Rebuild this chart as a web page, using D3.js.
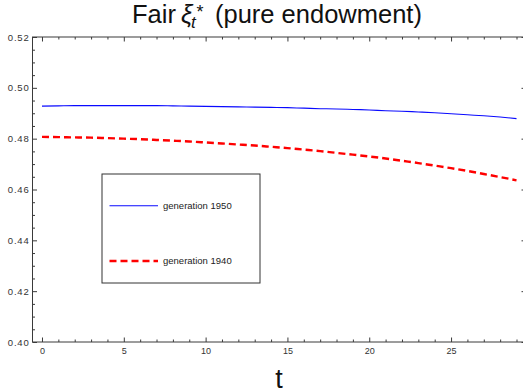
<!DOCTYPE html>
<html>
<head>
<meta charset="utf-8">
<script src="https://cdn.jsdelivr.net/npm/d3@7"></script>
<style>
  html, body { margin: 0; padding: 0; background: #fff; }
  svg { display: block; }
  text { font-family: "Liberation Sans", Arial, sans-serif; }
</style>
</head>
<body>
<svg id="chart" width="523" height="392"></svg>
<script>
// ---- data ----
const tValues = [0,1,2,3,4,5,6,7,8,9,10,11,12,13,14,15,16,17,18,19,20,21,22,23,24,25,26,27,28,29];
const gen1950 = [0.4928,0.4929,0.4930,0.4930,0.4930,0.4930,0.4930,0.4930,0.4929,0.4928,
                 0.4927,0.4926,0.4925,0.4924,0.4923,0.4922,0.4920,0.4918,0.4917,0.4915,
                 0.4913,0.4910,0.4908,0.4905,0.4902,0.4898,0.4894,0.4890,0.4885,0.4879];
const gen1940 = [0.4807,0.4806,0.4805,0.4804,0.4802,0.4800,0.4798,0.4795,0.4792,0.4789,
                 0.4785,0.4781,0.4777,0.4773,0.4768,0.4763,0.4757,0.4751,0.4744,0.4737,
                 0.4730,0.4722,0.4713,0.4704,0.4694,0.4684,0.4673,0.4661,0.4649,0.4636];
const seriesNames = ["generation 1950", "generation 1940"];
const xMajorTicks = [0,5,10,15,20,25];
const xMinorTicks = [1,2,3,4,6,7,8,9,11,12,13,14,16,17,18,19,21,22,23,24,26,27,28,29];
const yMajorTicks = [0.40,0.42,0.44,0.46,0.48,0.50,0.52];
const yMinorTicks = [0.405,0.41,0.415,0.425,0.43,0.435,0.445,0.45,0.455,0.465,0.47,0.475,
                     0.485,0.49,0.495,0.505,0.51,0.515];
const yTickLabels = ["0.40","0.42","0.44","0.46","0.48","0.50","0.52"];
const xLabel = "t";

// ---- layout ----
const svg = d3.select("#chart");
const pL = 32.5, pR = 526, pT = 37, pB = 342;
const x = d3.scaleLinear().domain([-0.58, 29.58]).range([pL, pR]);
const y = d3.scaleLinear().domain([0.40, 0.52]).range([pB, pT]);
const frameColor = "#3a3a3a";
const labelColor = "#333";

svg.append("rect").attr("width", 523).attr("height", 392).attr("fill", "#fff");

function styleAxis(g) {
  g.select(".domain").remove();
  g.selectAll(".tick line").attr("stroke", frameColor).attr("stroke-width", 1);
  g.selectAll(".tick text").attr("fill", labelColor).attr("font-size", 9)
    .attr("font-family", "Liberation Sans, Arial, sans-serif");
}
const fmtY = d => yTickLabels[yMajorTicks.indexOf(d)];

svg.append("g").attr("transform", `translate(0,${pB})`)
  .call(d3.axisBottom(x).tickValues(xMajorTicks).tickFormat(d3.format("d")).tickSize(-4.5).tickPadding(6))
  .call(styleAxis);
svg.append("g").attr("transform", `translate(0,${pB})`)
  .call(d3.axisBottom(x).tickValues(xMinorTicks).tickFormat("").tickSize(-2.5))
  .call(styleAxis);
svg.append("g").attr("transform", `translate(0,${pT})`)
  .call(d3.axisTop(x).tickValues(xMajorTicks).tickFormat("").tickSize(-4.5))
  .call(styleAxis);
svg.append("g").attr("transform", `translate(0,${pT})`)
  .call(d3.axisTop(x).tickValues(xMinorTicks).tickFormat("").tickSize(-2.5))
  .call(styleAxis);

svg.append("g").attr("transform", `translate(${pL},0)`)
  .call(d3.axisLeft(y).tickValues(yMajorTicks).tickFormat(fmtY).tickSize(-4.5).tickPadding(3))
  .call(styleAxis)
  .call(g => g.selectAll(".tick text").attr("font-size", 9.5).attr("letter-spacing", 0.8));
svg.append("g").attr("transform", `translate(${pL},0)`)
  .call(d3.axisLeft(y).tickValues(yMinorTicks).tickFormat("").tickSize(-2.5))
  .call(styleAxis);
svg.append("g").attr("transform", `translate(${pR},0)`)
  .call(d3.axisRight(y).tickValues(yMajorTicks).tickFormat("").tickSize(-4.5))
  .call(styleAxis);
svg.append("g").attr("transform", `translate(${pR},0)`)
  .call(d3.axisRight(y).tickValues(yMinorTicks).tickFormat("").tickSize(-2.5))
  .call(styleAxis);

svg.append("rect").attr("x", pL).attr("y", pT)
  .attr("width", pR - pL).attr("height", pB - pT)
  .attr("fill", "none").attr("stroke", frameColor).attr("stroke-width", 1);

const line = vals => d3.line().x((d, i) => x(tValues[i])).y(d => y(d)).curve(d3.curveMonotoneX)(vals);
svg.append("path").attr("d", line(gen1950))
  .attr("fill", "none").attr("stroke", "#0a0aff").attr("stroke-width", 1.1);
svg.append("path").attr("d", line(gen1940))
  .attr("fill", "none").attr("stroke", "#ff0000").attr("stroke-width", 2.4)
  .attr("stroke-dasharray", "7,4");

const lg = svg.append("g");
lg.append("rect").attr("x", 102).attr("y", 174).attr("width", 158).attr("height", 109)
  .attr("fill", "#fff").attr("stroke", "#333").attr("stroke-width", 1);
const legendItems = [
  { name: seriesNames[0], color: "#0a0aff", width: 1.1, dash: null, y: 205.7 },
  { name: seriesNames[1], color: "#ff0000", width: 2.4, dash: "7,4", y: 261 }
];
legendItems.forEach(it => {
  lg.append("line").attr("x1", 109.5).attr("x2", 158).attr("y1", it.y).attr("y2", it.y)
    .attr("stroke", it.color).attr("stroke-width", it.width)
    .attr("stroke-dasharray", it.dash);
  lg.append("text").attr("x", 163).attr("y", it.y + 3.2).attr("font-size", 9.5)
    .attr("fill", "#222").text(it.name);
});

// title pieces
const tg = svg.append("g").attr("fill", "#111");
tg.append("text").attr("x", 132).attr("y", 23).attr("font-size", 25.5).text("Fair");
tg.append("text").attr("x", 181).attr("y", 23).attr("font-size", 25.5).attr("font-style", "italic").text("ξ");
tg.append("text").attr("x", 191).attr("y", 28).attr("font-size", 17).attr("font-style", "italic").text("t");
tg.append("text").attr("x", 196.5).attr("y", 18).attr("font-size", 18).text("*");
tg.append("text").attr("x", 215).attr("y", 23).attr("font-size", 25.5).text("(pure endowment)");

svg.append("text").attr("x", 279).attr("y", 387.5).attr("text-anchor", "middle")
  .attr("font-size", 27).attr("fill", "#111").text(xLabel);
</script>
</body>
</html>
